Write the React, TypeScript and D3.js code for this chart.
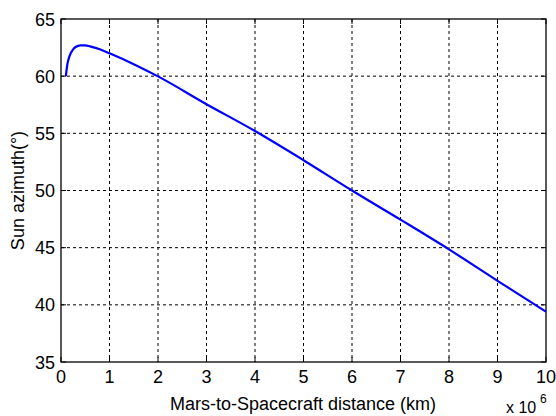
import React from "react";
import * as d3 from "d3";

// Distance from Mars (units of 1e6 km)
const distance = [0.1, 0.13, 0.15, 0.2, 0.25, 0.3, 0.4, 0.5, 0.6, 0.8, 1.0, 1.5, 2.0, 3.0, 4.0, 5.0, 6.0, 7.0, 8.0, 9.0, 10.0];
// Sun azimuth (degrees)
const azimuth = [60.0, 61.0, 61.4, 62.0, 62.35, 62.55, 62.7, 62.7, 62.6, 62.35, 62.0, 61.05, 59.98, 57.55, 55.2, 52.65, 50.0, 47.45, 44.85, 42.1, 39.4];

const xTicks = [0, 1, 2, 3, 4, 5, 6, 7, 8, 9, 10];
const yTicks = [35, 40, 45, 50, 55, 60, 65];

const W = 556;
const H = 416;
const left = 61;
const right = 546;
const top = 19;
const bottom = 362;

export default function App() {
  const x = d3.scaleLinear().domain([0, 10]).range([left, right]);
  const y = d3.scaleLinear().domain([35, 65]).range([bottom, top]);
  const pts: [number, number][] = distance.map((d, i) => [d, azimuth[i]]);
  const line = d3
    .line<[number, number]>()
    .x((d) => x(d[0]))
    .y((d) => y(d[1]))
    .curve(d3.curveMonotoneX);
  const font = "'Liberation Sans', Arial, sans-serif";
  return (
    <svg
      width={W}
      height={H}
      style={{ position: "absolute", left: 0, top: 0, background: "#fff" }}
      fontFamily={font}
    >
      <rect x={0} y={0} width={W} height={H} fill="#fff" />
      {/* grid */}
      {xTicks.slice(1, -1).map((t) => (
        <line key={"gx" + t} x1={x(t)} x2={x(t)} y1={top} y2={bottom} stroke="#000" strokeWidth={1} strokeDasharray="3,3" />
      ))}
      {yTicks.slice(1, -1).map((t) => (
        <line key={"gy" + t} x1={left} x2={right} y1={y(t)} y2={y(t)} stroke="#000" strokeWidth={1} strokeDasharray="3,3" />
      ))}
      {/* tick marks on all four sides */}
      {xTicks.map((t) => (
        <g key={"tx" + t}>
          <line x1={x(t)} x2={x(t)} y1={bottom} y2={bottom - 5} stroke="#000" />
          <line x1={x(t)} x2={x(t)} y1={top} y2={top + 5} stroke="#000" />
        </g>
      ))}
      {yTicks.map((t) => (
        <g key={"ty" + t}>
          <line x1={left} x2={left + 5} y1={y(t)} y2={y(t)} stroke="#000" />
          <line x1={right} x2={right - 5} y1={y(t)} y2={y(t)} stroke="#000" />
        </g>
      ))}
      <rect x={left} y={top} width={right - left} height={bottom - top} fill="none" stroke="#000" strokeWidth={1.3} />
      {/* data */}
      <path d={line(pts) ?? ""} fill="none" stroke="#0000ff" strokeWidth={2.2} />
      {/* tick labels */}
      {xTicks.map((t) => (
        <text key={"lx" + t} x={x(t)} y={383} textAnchor="middle" fontSize={18} fill="#000">
          {t}
        </text>
      ))}
      {yTicks.map((t) => (
        <text key={"ly" + t} x={55} y={y(t) + 6.5} textAnchor="end" fontSize={18} fill="#000">
          {t}
        </text>
      ))}
      <text x={303} y={410} textAnchor="middle" fontSize={18} fill="#000">
        Mars-to-Spacecraft distance (km)
      </text>
      <text x={506} y={413} fontSize={16} fill="#000">
        x 10
      </text>
      <text x={540} y={403} fontSize={12} fill="#000">
        6
      </text>
      <text transform={`translate(24,${(top + bottom) / 2}) rotate(-90)`} textAnchor="middle" fontSize={18} fill="#000">
        Sun azimuth(°)
      </text>
    </svg>
  );
}
